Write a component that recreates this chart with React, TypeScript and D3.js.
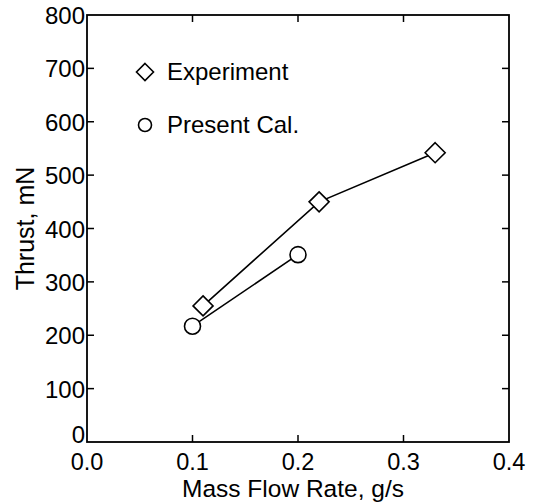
import React from "react";
import * as d3 from "d3";

const expX = [0.11, 0.22, 0.33];
const expY = [255, 450, 542];
const calX = [0.1, 0.2];
const calY = [217, 351];
const xTicks = [0.0, 0.1, 0.2, 0.3, 0.4];
const yTicks = [0, 100, 200, 300, 400, 500, 600, 700, 800];
const legendLabels = ["Experiment", "Present Cal."];

const W = 536, H = 503;
const L = 87, R = 509, T = 15, B = 442;
const FONT = "'Liberation Sans', Arial, sans-serif";

export default function App() {
  const x = d3.scaleLinear().domain([0, 0.4]).range([L, R]);
  const y = d3.scaleLinear().domain([0, 800]).range([B, T]);
  const line = d3.line<[number, number]>().x(d => x(d[0])).y(d => y(d[1]));
  const exp: [number, number][] = expX.map((v, i) => [v, expY[i]]);
  const cal: [number, number][] = calX.map((v, i) => [v, calY[i]]);
  const diamond = (cx: number, cy: number, s: number) =>
    `M${cx},${cy - s}L${cx + s},${cy}L${cx},${cy + s}L${cx - s},${cy}Z`;
  const tk = 7;
  return (
    <svg width={W} height={H} style={{ position: "absolute", left: 0, top: 0, background: "#fff" }}>
      <rect x={L} y={T} width={R - L} height={B - T} fill="none" stroke="#000" strokeWidth={1.8} />
      {xTicks.slice(1, -1).map(t => (
        <g key={"xt" + t}>
          <line x1={x(t)} x2={x(t)} y1={B} y2={B - tk} stroke="#000" strokeWidth={1.5} />
          <line x1={x(t)} x2={x(t)} y1={T} y2={T + tk} stroke="#000" strokeWidth={1.5} />
        </g>
      ))}
      {yTicks.slice(1, -1).map(t => (
        <g key={"yt" + t}>
          <line x1={L} x2={L + tk} y1={y(t)} y2={y(t)} stroke="#000" strokeWidth={1.5} />
          <line x1={R} x2={R - tk} y1={y(t)} y2={y(t)} stroke="#000" strokeWidth={1.5} />
        </g>
      ))}
      {xTicks.map(t => (
        <text key={"xl" + t} x={x(t)} y={470} textAnchor="middle" fontFamily={FONT} fontSize={23.5} fill="#000">
          {t.toFixed(1)}
        </text>
      ))}
      {yTicks.map(t => (
        <text key={"yl" + t} x={L - 2} y={y(t) + (t === 0 ? 1 : 9)} textAnchor="end" fontFamily={FONT} fontSize={24} fill="#000">
          {t}
        </text>
      ))}
      <text x={(L + R) / 2 - 5} y={497} textAnchor="middle" fontFamily={FONT} fontSize={24.5} fill="#000">
        Mass Flow Rate, g/s
      </text>
      <text transform={`translate(34,${(T + B) / 2}) rotate(-90)`} textAnchor="middle" fontFamily={FONT} fontSize={25} fill="#000">
        Thrust, mN
      </text>
      <path d={line(exp) || ""} fill="none" stroke="#000" strokeWidth={1.6} />
      <path d={line(cal) || ""} fill="none" stroke="#000" strokeWidth={1.6} />
      {exp.map((d, i) => (
        <path key={"e" + i} d={diamond(x(d[0]), y(d[1]), 10)} fill="#fff" stroke="#000" strokeWidth={1.6} />
      ))}
      {cal.map((d, i) => (
        <circle key={"c" + i} cx={x(d[0])} cy={y(d[1])} r={8} fill="#fff" stroke="#000" strokeWidth={1.6} />
      ))}
      <path d={diamond(145, 72, 8.5)} fill="#fff" stroke="#000" strokeWidth={1.6} />
      <text x={167} y={80} fontFamily={FONT} fontSize={24} fill="#000">{legendLabels[0]}</text>
      <circle cx={145} cy={125} r={6.5} fill="#fff" stroke="#000" strokeWidth={1.6} />
      <text x={167} y={133} fontFamily={FONT} fontSize={24} fill="#000">{legendLabels[1]}</text>
    </svg>
  );
}
